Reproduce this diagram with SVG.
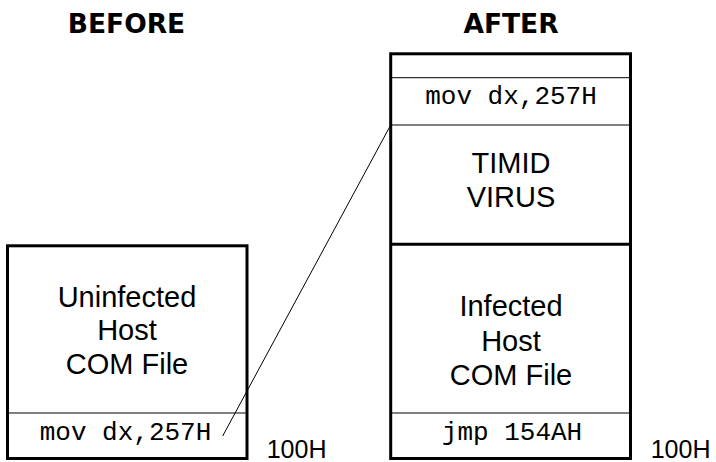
<svg xmlns="http://www.w3.org/2000/svg" width="716" height="462" viewBox="0 0 716 462">
<style>
.box{fill:#fff;stroke:#000;stroke-width:3}
.thin{stroke:#000;stroke-width:1;fill:none}
.thick{stroke:#000;stroke-width:3;fill:none}
.hdr{font-family:"DejaVu Sans",sans-serif;font-weight:bold;font-size:26.5px;text-anchor:middle;fill:#000}
.lbl{font-family:"Liberation Sans",Arial,sans-serif;font-size:29px;text-anchor:middle;fill:#000}
.mono{font-family:"Liberation Mono","Courier New",monospace;font-size:26px;text-anchor:middle;fill:#000}
.addr{font-family:"Liberation Sans",Arial,sans-serif;font-size:25px;fill:#000}
</style>
<rect width="716" height="462" fill="#fff"/>
<text class="hdr" x="126.5" y="33.3">BEFORE</text>
<text class="hdr" x="511" y="33.3">AFTER</text>
<g id="before">
<rect class="box" x="7.5" y="245.8" width="239.5" height="212.7"/>
<line class="thin" x1="7.5" y1="413" x2="247" y2="413"/>
<text class="lbl" x="127" y="306.7">Uninfected</text>
<text class="lbl" x="127" y="340.3">Host</text>
<text class="lbl" x="127" y="374">COM File</text>
<text class="mono" x="125.5" y="440">mov dx,257H</text>
<text class="addr" x="266.7" y="457.5">100H</text>
</g>
<g id="after">
<rect class="box" x="390.7" y="53.8" width="239.8" height="404.7"/>
<line class="thin" x1="390.7" y1="77.7" x2="630.5" y2="77.7"/>
<line class="thin" x1="390.7" y1="125" x2="630.5" y2="125"/>
<line class="thick" x1="390.7" y1="244.3" x2="630.5" y2="244.3"/>
<line class="thin" x1="390.7" y1="413" x2="630.5" y2="413"/>
<text class="mono" x="511" y="104.3">mov dx,257H</text>
<text class="lbl" x="511" y="173.3">TIMID</text>
<text class="lbl" x="511" y="206.7">VIRUS</text>
<text class="lbl" x="511" y="316">Infected</text>
<text class="lbl" x="511" y="350.5">Host</text>
<text class="lbl" x="511" y="385">COM File</text>
<text class="mono" x="512" y="440">jmp 154AH</text>
<text class="addr" x="650.7" y="457.5">100H</text>
</g>
<g id="connectors">
<line class="thin" x1="222.7" y1="436" x2="390.7" y2="125"/>
</g>
</svg>
